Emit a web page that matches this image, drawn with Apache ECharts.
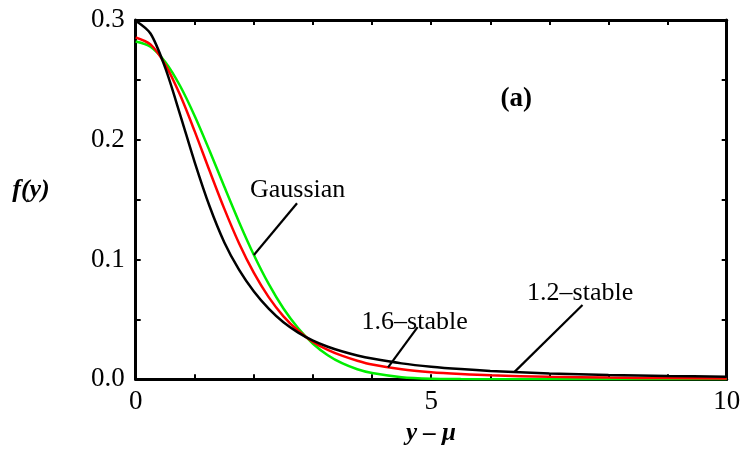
<!DOCTYPE html>
<html>
<head>
<meta charset="utf-8">
<script src="https://cdn.jsdelivr.net/npm/echarts@6/dist/echarts.min.js"></script>
<style>
  html, body { margin: 0; padding: 0; background: #fff; }
  #chart { width: 744px; height: 449px; }
</style>
</head>
<body>
<div id="chart"></div>
<script>
// Sample positions (y - mu) shared by the three densities
const xValues = [0, 0.25, 0.5, 0.75, 1, 1.25, 1.5, 1.75, 2, 2.25, 2.5, 2.75, 3, 3.25, 3.5, 3.75, 4, 4.5, 5, 5.5, 6, 7, 8, 9, 10];

// 1.2-stable density (black)
const stable12 = [0.2994, 0.2887, 0.2600, 0.2213, 0.1810, 0.1445, 0.1143, 0.0913, 0.0733, 0.0590, 0.0476, 0.0390, 0.0323, 0.0272, 0.0232, 0.0199, 0.0173, 0.0133, 0.0105, 0.0085, 0.0070, 0.0049, 0.0036, 0.0028, 0.0022];

// 1.6-stable density (red)
const stable16 = [0.2854, 0.2796, 0.2628, 0.2375, 0.2068, 0.1741, 0.1423, 0.1134, 0.0888, 0.0686, 0.0526, 0.0405, 0.0312, 0.0246, 0.0195, 0.0155, 0.0123, 0.0083, 0.0059, 0.0044, 0.0033, 0.0021, 0.0014, 0.0010, 0.00075];

// Gaussian density (green)
const gaussian = [0.2821, 0.2777, 0.2650, 0.2451, 0.2197, 0.1909, 0.1607, 0.1312, 0.1038, 0.0796, 0.0591, 0.0426, 0.0297, 0.0201, 0.0132, 0.0084, 0.0052, 0.0018, 0.0005, 0.00015, 0.00004, 0, 0, 0, 0];

// Axis ranges and labelled ticks
const xRange = [0, 10];
const yRange = [0, 0.3];
const xTickLabels = [0, 5, 10];
const yTickLabels = ['0.0', '0.1', '0.2', '0.3'];

// Curve annotations: text anchor and leader line (data units)
const annotations = [
  { text: 'Gaussian',   at: [2.74, 0.158],  from: [2.73, 0.147],  to: [2.0, 0.1038] },
  { text: '1.6\u2013stable', at: [4.72, 0.048], from: [4.77, 0.0435], to: [4.27, 0.0100] },
  { text: '1.2\u2013stable', at: [7.52, 0.072], from: [7.56, 0.062],  to: [6.41, 0.0062] }
];
const panelTag = { text: '(a)', at: [6.44, 0.234] };

const serif = '"Liberation Serif", "Times New Roman", serif';

function pairs(ys) { return xValues.map((x, i) => [x, ys[i]]); }

const chart = echarts.init(document.getElementById('chart'), null, { renderer: 'canvas' });

const frameLine = { show: true, onZero: false, lineStyle: { color: '#000', width: 3 } };
const tickIn = { show: true, inside: true, length: 5, lineStyle: { color: '#000', width: 2 } };

const option = {
  animation: false,
  backgroundColor: '#fff',
  grid: { left: 135.7, right: 17.3, top: 20, bottom: 69.7, containLabel: false },
  xAxis: [
    {
      type: 'value', min: xRange[0], max: xRange[1], interval: 1, position: 'bottom',
      axisLine: frameLine, axisTick: tickIn, splitLine: { show: false },
      axisLabel: {
        color: '#000', fontFamily: serif, fontSize: 27, margin: 9,
        formatter: v => (xTickLabels.indexOf(v) >= 0 ? String(v) : '')
      }
    },
    {
      type: 'value', min: xRange[0], max: xRange[1], interval: 1, position: 'top',
      axisLine: frameLine, axisTick: tickIn, axisLabel: { show: false }, splitLine: { show: false }
    }
  ],
  yAxis: [
    {
      type: 'value', min: yRange[0], max: yRange[1], interval: 0.05, position: 'left',
      axisLine: frameLine, axisTick: tickIn, splitLine: { show: false },
      axisLabel: {
        color: '#000', fontFamily: serif, fontSize: 27, margin: 11,
        formatter: v => {
          const s = v.toFixed(1);
          return (Math.abs(v * 10 - Math.round(v * 10)) < 1e-6 && yTickLabels.indexOf(s) >= 0) ? s : '';
        }
      }
    },
    {
      type: 'value', min: yRange[0], max: yRange[1], interval: 0.05, position: 'right',
      axisLine: frameLine, axisTick: tickIn, axisLabel: { show: false }, splitLine: { show: false }
    }
  ],
  series: [
    {
      name: 'Gaussian', type: 'line', data: pairs(gaussian), smooth: 0.3,
      showSymbol: false, lineStyle: { color: '#00ee00', width: 2.5 }, z: 3
    },
    {
      name: '1.6-stable', type: 'line', data: pairs(stable16), smooth: 0.3,
      showSymbol: false, lineStyle: { color: '#ff0000', width: 2.5 }, z: 4
    },
    {
      name: '1.2-stable', type: 'line', data: pairs(stable12), smooth: 0.3,
      showSymbol: false, lineStyle: { color: '#000000', width: 2.5 }, z: 5,
      markLine: {
        silent: true, symbol: ['none', 'none'], animation: false,
        label: { show: false },
        lineStyle: { color: '#000', width: 2.2, type: 'solid' },
        data: annotations.map(a => [{ coord: a.from }, { coord: a.to }])
      }
    }
  ]
};

chart.setOption(option);

// Text annotations placed at data positions
const graphics = annotations.map(a => {
  const p = chart.convertToPixel({ gridIndex: 0 }, a.at);
  return {
    type: 'text', x: p[0], y: p[1], z: 10,
    style: { text: a.text, fill: '#000', font: '26px ' + serif, textAlign: 'center', textVerticalAlign: 'middle' }
  };
});
const tagPos = chart.convertToPixel({ gridIndex: 0 }, panelTag.at);
graphics.push({
  type: 'text', x: tagPos[0], y: tagPos[1], z: 10,
  style: { text: panelTag.text, fill: '#000', font: 'bold 27px ' + serif, textAlign: 'center', textVerticalAlign: 'middle' }
});
// Axis titles
graphics.push({
  type: 'text', x: 31, y: 190, z: 10,
  style: { text: 'f(y)', fill: '#000', font: 'italic bold 26px ' + serif, textAlign: 'center', textVerticalAlign: 'middle' }
});
graphics.push({
  type: 'text', x: 431, y: 434, z: 10,
  style: { text: 'y \u2013 \u03bc', fill: '#000', font: 'italic bold 25px ' + serif, textAlign: 'center', textVerticalAlign: 'middle' }
});
chart.setOption({ graphic: graphics });
</script>
</body>
</html>
